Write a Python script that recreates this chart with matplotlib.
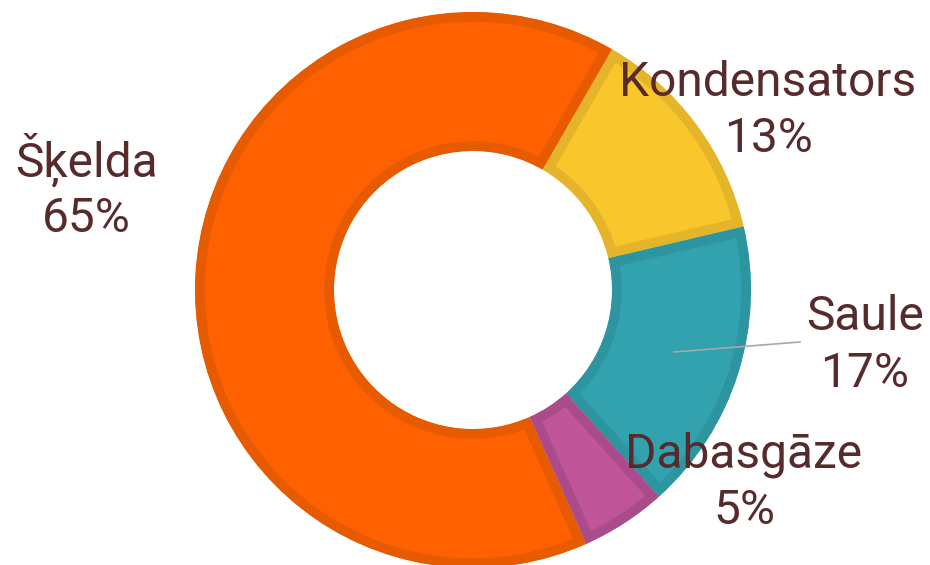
import matplotlib
matplotlib.use('Agg')
import matplotlib.pyplot as plt
from matplotlib.lines import Line2D

# dati
nosaukumi = ['Kondensators', 'Saule', 'Dabasgāze', 'Šķelda']
procenti = [13, 17, 5, 65]
krasas = ['#F9C62C', '#31A2AE', '#C05599', '#FF6000']
malas = ['#E4B52B', '#2C959F', '#AA4C8B', '#E65A00']

W, H = 930, 565
cx, cy, R = 473, 290, 278  # centrs un radiuss pikseļos

fig = plt.figure(figsize=(W / 100, H / 100), dpi=100)
ax = fig.add_axes([0, 0, 1, 1])

wedges, _ = ax.pie(procenti, startangle=60, counterclock=False, radius=1,
                   colors=krasas, wedgeprops=dict(width=0.5))
for w, m in zip(wedges, malas):
    w.set_edgecolor(m)
    w.set_linewidth(14)
    w.set_joinstyle('miter')
    w.set_clip_path(w)  # mala tikai iekšpusē
    w.set_clip_on(True)

ax.set_xlim(-cx / R, (W - cx) / R)
ax.set_ylim(-(H - cy) / R, cy / R)
ax.set_aspect('auto')
ax.axis('off')

# līnija uz Saule
fig.add_artist(Line2D([674 / W, 800 / W], [1 - 352 / H, 1 - 342 / H],
                      color='#A8A8A8', lw=1.2))

teksta_krasa = '#572B2B'
# x centrs, 1. rindas bāzes līnija, 2. rindas bāzes līnija (pikseļi)
vietas = {'Šķelda': (86, 177, 232), 'Kondensators': (768, 96, 152),
          'Saule': (865, 330, 387), 'Dabasgāze': (744, 467, 524)}
for n, p in zip(nosaukumi, procenti):
    x, y1, y2 = vietas[n]
    for t, y in ((n, y1), (f'{p}%', y2)):
        fig.text(x / W, 1 - y / H, t, ha='center', va='baseline',
                 fontsize=34.5, family='Roboto', color=teksta_krasa)

fig.savefig('out.png', dpi=100)
